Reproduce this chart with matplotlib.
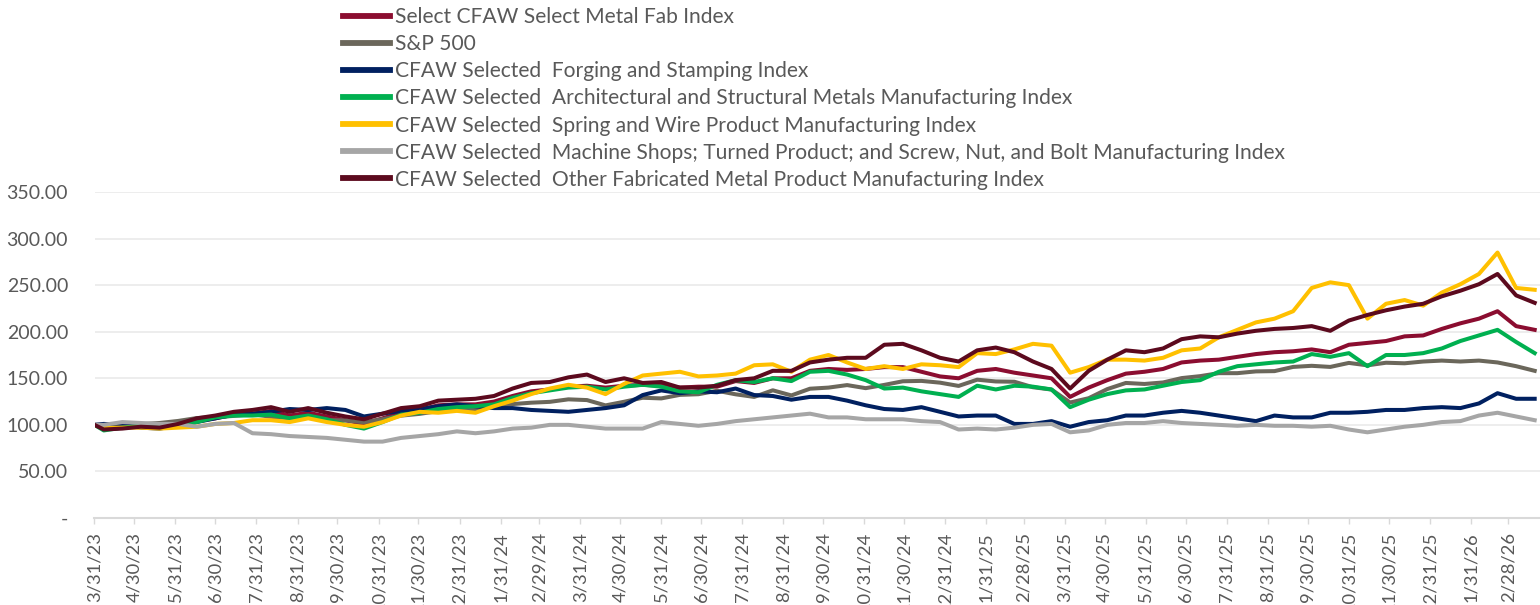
import matplotlib
matplotlib.use("Agg")
import matplotlib.pyplot as plt
import pandas as pd
from matplotlib.ticker import FuncFormatter

# biweekly points (Fridays), first point is the 3/31/23 base
dates = [pd.Timestamp("2023-03-31")] + list(pd.date_range("2023-04-07", "2026-03-20", freq="14D"))

metal_fab = [100, 97, 98, 99, 98, 100, 104, 107, 111, 112, 115, 110, 113, 109, 105, 101,
             107, 113, 116, 121, 122, 122, 125, 131, 136, 138, 141, 142, 140, 142, 143, 142,
             140, 141, 141, 147, 145, 150, 150, 158, 160, 159, 160, 162, 162, 157, 152, 150,
             158, 160, 156, 153, 150, 130, 140, 148, 155, 157, 160, 167, 169, 170, 173, 176,
             178, 179, 181, 178, 186, 188, 190, 195, 196, 203, 209, 214, 222, 206, 202]
sp500 = [100, 99.9, 100.6, 100.7, 102.0, 104.2, 107.3, 108.3, 109.6, 111.5, 108.6, 107.2,
         108.5, 105.1, 104.8, 102.8, 106.1, 109.9, 111.8, 114.8, 116.1, 116.4, 119.0, 122.3,
         123.8, 124.7, 127.4, 126.6, 120.9, 124.8, 129.1, 128.4, 132.2, 132.9, 136.6, 132.8,
         130.0, 137.1, 131.6, 138.8, 140.0, 142.7, 139.4, 142.9, 146.8, 147.2, 145.3, 141.8,
         148.5, 146.6, 146.3, 140.4, 137.9, 124.0, 128.6, 138.4, 145.0, 143.9, 145.5, 150.2,
         152.3, 155.5, 155.5, 157.4, 157.7, 162.2, 163.4, 162.2, 166.5, 163.9, 166.7, 166.1,
         168, 169, 168, 169, 167, 163, 158]
forging = [100, 101, 100, 97, 96, 99, 103, 107, 111, 112, 114, 117, 116, 118, 116, 109,
           112, 115, 117, 120, 122, 120, 118, 118, 116, 115, 114, 116, 118, 121, 132, 137,
           134, 136, 135, 139, 132, 131, 127, 130, 130, 126, 121, 117, 116, 119, 114, 109,
           110, 110, 101, 101, 104, 98, 103, 105, 110, 110, 113, 115, 113, 110, 107, 104,
           110, 108, 108, 113, 113, 114, 116, 116, 118, 119, 118, 123, 134, 128, 128]
architectural = [100, 94, 97, 99, 98, 99, 103, 108, 110, 110, 111, 107, 110, 106, 100, 96,
                 103, 111, 113, 117, 119, 120, 122, 129, 134, 137, 140, 141, 138, 141, 143, 141,
                 136, 135, 143, 148, 146, 150, 147, 157, 158, 154, 148, 139, 140, 136, 133, 130,
                 142, 138, 142, 141, 138, 119, 127, 133, 137, 138, 142, 146, 148, 157, 163, 165,
                 167, 168, 176, 173, 177, 163, 175, 175, 177, 182, 190, 196, 202, 189, 177]
spring_wire = [100, 97, 97, 97, 96, 97, 98, 101, 102, 105, 105, 103, 107, 103, 100, 98,
               103, 110, 114, 113, 115, 113, 120, 126, 133, 139, 143, 140, 133, 144, 153, 155,
               157, 152, 153, 155, 164, 165, 157, 170, 175, 167, 160, 163, 160, 165, 164, 162,
               177, 176, 181, 187, 185, 156, 162, 170, 170, 169, 172, 180, 182, 194, 202, 210,
               214, 222, 247, 253, 250, 214, 230, 234, 228, 242, 251, 262, 285, 247, 245]
machine_shops = [100, 100, 103, 102, 101, 101, 98, 101, 102, 91, 90, 88, 87, 86, 84, 82,
                 82, 86, 88, 90, 93, 91, 93, 96, 97, 100, 100, 98, 96, 96, 96, 103,
                 101, 99, 101, 104, 106, 108, 110, 112, 108, 108, 106, 106, 106, 104, 103, 95,
                 96, 95, 97, 100, 101, 92, 94, 100, 102, 102, 104, 102, 101, 100, 99, 100,
                 99, 99, 98, 99, 95, 92, 95, 98, 100, 103, 104, 110, 113, 109, 105]
other_fab = [100, 95, 96, 98, 97, 101, 107, 110, 114, 116, 119, 114, 118, 113, 109, 106,
             112, 118, 120, 126, 127, 128, 131, 139, 145, 146, 151, 154, 146, 150, 145, 146,
             140, 140, 142, 148, 150, 158, 158, 167, 170, 172, 172, 186, 187, 180, 172, 168,
             180, 183, 178, 168, 160, 139, 158, 170, 180, 178, 182, 192, 195, 194, 198, 201,
             203, 204, 206, 201, 212, 218, 223, 227, 230, 238, 244, 251, 262, 239, 231]

labels = ["Select CFAW Select Metal Fab Index",
          "S&P 500",
          "CFAW Selected  Forging and Stamping Index",
          "CFAW Selected  Architectural and Structural Metals Manufacturing Index",
          "CFAW Selected  Spring and Wire Product Manufacturing Index",
          "CFAW Selected  Machine Shops; Turned Product; and Screw, Nut, and Bolt Manufacturing Index",
          "CFAW Selected  Other Fabricated Metal Product Manufacturing Index"]
series = [metal_fab, sp500, forging, architectural, spring_wire, machine_shops, other_fab]
colors = ["#8B0D30", "#6B675B", "#002060", "#00B050", "#FFC000", "#A6A6A6", "#5C0A1E"]

tick_dates = pd.date_range("2023-03-31", "2026-02-28", freq="ME")

plt.rcParams["font.family"] = ["Lato", "DejaVu Sans"]
txt = "#595959"

fig = plt.figure(figsize=(15.4, 6.05), dpi=100)
ax = fig.add_axes([94.5 / 1540, 1 - 518 / 605, 1 - 94.5 / 1540, (518 - 192) / 605])

handles = []
for vals, col, lab in zip(series, colors, labels):
    h, = ax.plot(dates, vals, color=col, lw=2.9, label=lab, solid_joinstyle="round")
    handles.append(h)

ax.set_ylim(0, 350)
ax.set_yticks(range(0, 351, 50))
ax.yaxis.set_major_formatter(FuncFormatter(lambda v, p: "-" if v == 0 else f"{v:.2f}"))
ax.set_xlim(pd.Timestamp("2023-03-31"), pd.Timestamp("2026-03-24"))
ax.set_xticks(tick_dates)
ax.set_xticklabels([f"{d.month}/{d.day}/{d.strftime('%y')}" for d in tick_dates], rotation=90)

ax.grid(axis="y", color="#E8E8E8", lw=1.1)
ax.set_axisbelow(True)
for s in ["top", "right", "left"]:
    ax.spines[s].set_visible(False)
ax.spines["bottom"].set_color("#D9D9D9")
ax.spines["bottom"].set_linewidth(1.5)
ax.tick_params(axis="y", length=0, pad=19, labelsize=14, labelcolor=txt)
ax.tick_params(axis="x", length=4, width=1, color="#D9D9D9", pad=6, labelsize=13.2, labelcolor=txt)

leg = fig.legend(handles=handles, loc="upper left", bbox_to_anchor=(343 / 1540, 1 - 7 / 605),
                 frameon=False, fontsize=15.1, labelcolor=txt, handlelength=2.25, handletextpad=0.24,
                 labelspacing=0.34, borderpad=0, borderaxespad=0)
for lh in leg.get_lines():
    lh.set_linewidth(4.2)

fig.savefig("out.png", dpi=100)
